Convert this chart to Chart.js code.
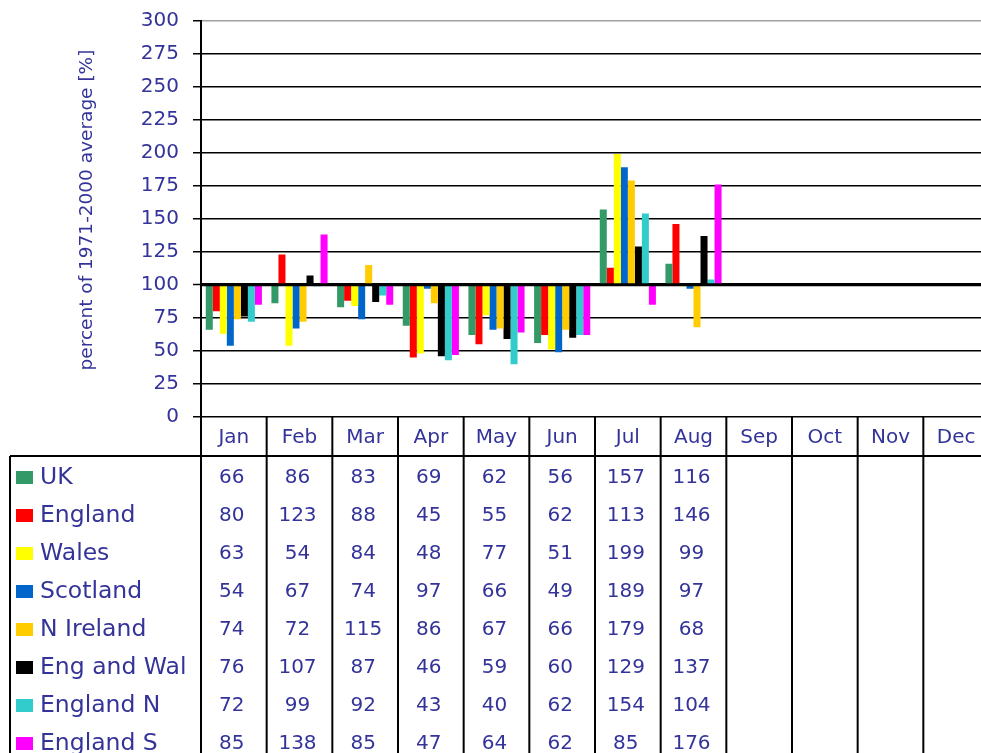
<!DOCTYPE html>
<html><head><meta charset="utf-8">
<script src="https://cdn.jsdelivr.net/npm/chart.js@4.4.1/dist/chart.umd.min.js"></script>
<style>
html,body{margin:0;padding:0;overflow:hidden;background:#fff;}
#wrap{width:989px;height:753px;position:relative;}
</style></head><body>
<div id="wrap"><canvas id="c"></canvas></div>
<script>
// ---- data ----
const months = ['Jan','Feb','Mar','Apr','May','Jun','Jul','Aug','Sep','Oct','Nov','Dec'];
const seriesNames = ['UK','England','Wales','Scotland','N Ireland','Eng and Wal','England N','England S'];
const uk        = [66, 86, 83, 69, 62, 56, 157, 116];
const england   = [80, 123, 88, 45, 55, 62, 113, 146];
const wales     = [63, 54, 84, 48, 77, 51, 199, 99];
const scotland  = [54, 67, 74, 97, 66, 49, 189, 97];
const nIreland  = [74, 72, 115, 86, 67, 66, 179, 68];
const engAndWal = [76, 107, 87, 46, 59, 60, 129, 137];
const englandN  = [72, 99, 92, 43, 40, 62, 154, 104];
const englandS  = [85, 138, 85, 47, 64, 62, 85, 176];
const baseline = 100;
const yMin = 0, yMax = 300, yStep = 25;
const yTitle = 'percent of 1971-2000 average [%]';

// ---- styles ----
const seriesValues = [uk, england, wales, scotland, nIreland, engAndWal, englandN, englandS];
const seriesColors = ['#339966','#FF0000','#FFFF00','#0066CC','#FFCC00','#000000','#33CCCC','#FF00FF'];
const textColor = '#333399';
const FONT = "'DejaVu Sans', Verdana, sans-serif";
Chart.defaults.font.family = FONT;

const datasets = seriesNames.map((name, i) => ({
  label: name,
  data: months.map((m, j) => (seriesValues[i][j] == null ? null : [baseline, seriesValues[i][j]])),
  backgroundColor: seriesColors[i],
  borderWidth: 0,
  categoryPercentage: 0.855,
  barPercentage: 1.0
}));

const HEADER_H = 39, ROW_H = 38, TABLE_LEFT = 10;

const tablePlugin = {
  id: 'dataTable',
  afterDatasetsDraw(chart) {
    const {ctx, chartArea, scales: {y}} = chart;
    const yy = y.getPixelForValue(baseline);
    ctx.save();
    ctx.strokeStyle = '#000';
    ctx.lineWidth = 3;
    ctx.beginPath();
    ctx.moveTo(chartArea.left, yy);
    ctx.lineTo(chartArea.right, yy);
    ctx.stroke();
    ctx.restore();
  },
  afterDraw(chart) {
    const {ctx, chartArea, scales: {x}} = chart;
    const H = chart.height, W = chart.width;
    const colW = (chartArea.right - chartArea.left) / months.length;
    const tableTop = chartArea.bottom + HEADER_H;
    ctx.save();
    // axis title
    ctx.fillStyle = textColor;
    ctx.font = '18.5px ' + FONT;
    ctx.textAlign = 'center';
    ctx.textBaseline = 'middle';
    ctx.translate(87, 210);
    ctx.rotate(-Math.PI / 2);
    ctx.fillText(yTitle, 0, 0);
    ctx.restore();
    ctx.save();
    ctx.strokeStyle = '#000';
    ctx.lineWidth = 2;
    const line = (x1, y1, x2, y2) => { ctx.beginPath(); ctx.moveTo(x1, y1); ctx.lineTo(x2, y2); ctx.stroke(); };
    for (let i = 0; i <= months.length; i++) {
      const xx = chartArea.left + i * colW;
      line(xx, chartArea.bottom, xx, H);
    }
    line(TABLE_LEFT, tableTop, TABLE_LEFT, H);
    line(TABLE_LEFT, tableTop, W, tableTop);

    ctx.textBaseline = 'middle';
    seriesNames.forEach((name, i) => {
      const cy = tableTop + 21.5 + i * ROW_H;
      ctx.fillStyle = seriesColors[i];
      ctx.fillRect(16, cy - 6.5, 17, 13);
      ctx.fillStyle = textColor;
      ctx.font = '23.5px ' + FONT;
      ctx.textAlign = 'left';
      ctx.fillText(name, 40, cy);
      ctx.font = '20px ' + FONT;
      ctx.textAlign = 'center';
      seriesValues[i].forEach((v, j) => {
        if (v == null) return;
        ctx.fillText(String(v), x.getPixelForValue(j) - 2, cy);
      });
    });
    ctx.restore();
  }
};

new Chart(document.getElementById('c'), {
  type: 'bar',
  data: { labels: months, datasets },
  options: {
    responsive: true,
    maintainAspectRatio: false,
    animation: false,
    layout: { padding: { top: 20.5, left: 0, right: 0, bottom: 0 } },
    plugins: { legend: { display: false }, tooltip: { enabled: false } },
    scales: {
      x: {
        grid: { display: false },
        border: { display: false },
        ticks: { color: textColor, font: { size: 20 }, padding: 1, maxRotation: 0, autoSkip: false },
        afterFit(s) { s.height = 336; s.paddingLeft = 0; s.paddingRight = 0; }
      },
      y: {
        min: yMin, max: yMax,
        ticks: { stepSize: yStep, color: textColor, font: { size: 20 }, padding: 14 },
        grid: {
          color: c => (c.tick && c.tick.value === yMax ? '#a0a0a0' : '#000'),
          lineWidth: c => (c.tick && c.tick.value === baseline ? 3 : 1.5),
          tickLength: 8, tickColor: '#000', tickWidth: 1.5
        },
        border: { display: true, color: '#000', width: 2 },
        title: { display: false },
        afterFit(s) { s.width = 201; s.paddingTop = 0; s.paddingBottom = 0; }
      }
    }
  },
  plugins: [tablePlugin]
});
</script>
</body></html>
